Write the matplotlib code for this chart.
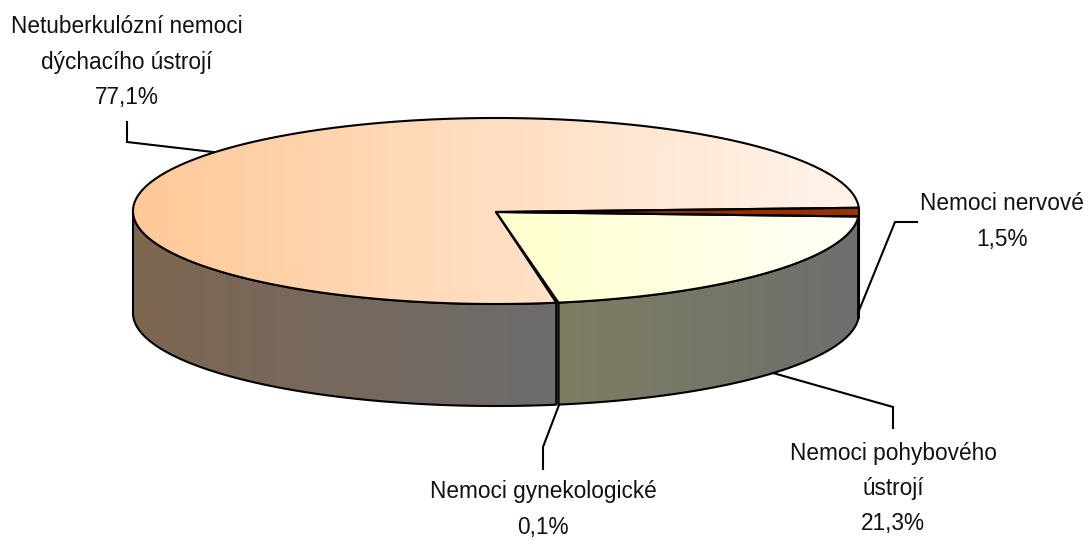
import numpy as np
import matplotlib
matplotlib.use("Agg")
import matplotlib.pyplot as plt
from matplotlib.patches import Polygon
from matplotlib.colors import to_rgb

# ---- data ----
categories = ["Nemoci nervové", "Nemoci pohybového ústrojí",
              "Nemoci gynekologické", "Netuberkulózní nemoci dýchacího ústrojí"]
values = [1.5, 21.3, 0.1, 77.1]
value_labels = ["1,5%", "21,3%", "0,1%", "77,1%"]
label_lines = [["Nemoci nervové"],
               ["Nemoci pohybového", "ústrojí"],
               ["Nemoci gynekologické"],
               ["Netuberkulózní nemoci", "dýchacího ústrojí"]]

# ---- styles ----
top_colors = [("#8a2e00", "#993300"), ("#FFFFCC", "#FFFFF8"),
              ("#FFFFCC", "#FFFFF0"), ("#FFC998", "#FFF4EC")]
side_colors = [("#6a3a20", "#6a3a20"), ("#7E7E62", "#6E6E6E"),
               ("#7a7a66", "#707070"), ("#7E6650", "#6C6C6C")]

fig = plt.figure(figsize=(10.9, 5.4), dpi=100)
ax = fig.add_axes([0, 0, 1, 1])
ax.set_xlim(0, 1090)
ax.set_ylim(540, 0)
ax.axis("off")

cx, cy, rx, ry, depth = 496, 211, 363, 93, 102
start = -2.0


def pt(t, dy=0.0):
    r = np.deg2rad(t)
    return cx + rx * np.cos(r), cy + ry * np.sin(r) + dy


def arc(t1, t2, dy=0.0, n=None):
    if n is None:
        n = max(2, int(abs(t2 - t1) * 2) + 2)
    ts = np.linspace(t1, t2, n)
    return [pt(t, dy) for t in ts]


def grad_fill(verts, c1, c2, z, edge=True):
    verts = np.array(verts)
    poly = Polygon(verts, closed=True, facecolor="none", edgecolor="none", zorder=z)
    ax.add_patch(poly)
    x0, x1 = verts[:, 0].min(), verts[:, 0].max()
    y0, y1 = verts[:, 1].min(), verts[:, 1].max()
    n = 256
    a = np.array(to_rgb(c1)); b = np.array(to_rgb(c2))
    g = np.linspace(0, 1, n)[:, None]
    img = (a * (1 - g) + b * g)[None, :, :]
    im = ax.imshow(img, extent=[x0, x1 + 1, y1 + 1, y0 - 1], aspect="auto",
                   interpolation="bilinear", zorder=z)
    im.set_clip_path(poly)
    if edge:
        ax.add_patch(Polygon(verts, closed=True, facecolor="none",
                             edgecolor="black", lw=1.5, zorder=z + 0.5,
                             joinstyle="round"))


# slice angles
total = sum(values)
bounds = [start]
for v in values:
    bounds.append(bounds[-1] + v / total * 360.0)

# side walls (visible front part: 0..180 deg)
for i in range(len(values)):
    t1, t2 = bounds[i], bounds[i + 1]
    for off in (0, 360, -360):
        a1, a2 = max(t1 + off, 0), min(t2 + off, 180)
        if a2 > a1:
            verts = arc(a1, a2) + arc(a2, a1, dy=depth)
            grad_fill(verts, side_colors[i][0], side_colors[i][1], 2,
                      edge=values[i] >= 1)

# top wedges
for i in range(len(values)):
    t1, t2 = bounds[i], bounds[i + 1]
    verts = [(cx, cy + 1)] + arc(t1, t2)
    grad_fill(verts, top_colors[i][0], top_colors[i][1], 4,
              edge=values[i] >= 1)

# ---- labels & leader lines ----
font = dict(family=["Liberation Sans Narrow", "Liberation Sans", "DejaVu Sans"],
            fontsize=16.3, color="#111111", ha="center", va="baseline")

label_pos = [(1002, [210, 246]), (893, [460, 495, 530]),
             (543, [498, 534]), (127, [33, 68.5, 104])]
leaders = [[(917, 222), (895, 222), (858, 313)],
           [(773, 373), (893, 407), (893, 428)],
           [(559, 405), (543, 447), (543, 469)],
           [(127, 122), (127, 142), (213, 152)]]

for i in range(len(values)):
    x, ys = label_pos[i]
    lines = label_lines[i] + [value_labels[i]]
    for line, y in zip(lines, ys):
        ax.text(x, y, line, zorder=10, **font)
    xs, yl = zip(*leaders[i])
    ax.plot(xs, yl, color="black", lw=1.5, zorder=1 if i == 3 else 6,
            solid_joinstyle="miter")

fig.savefig("out.png", dpi=100)
